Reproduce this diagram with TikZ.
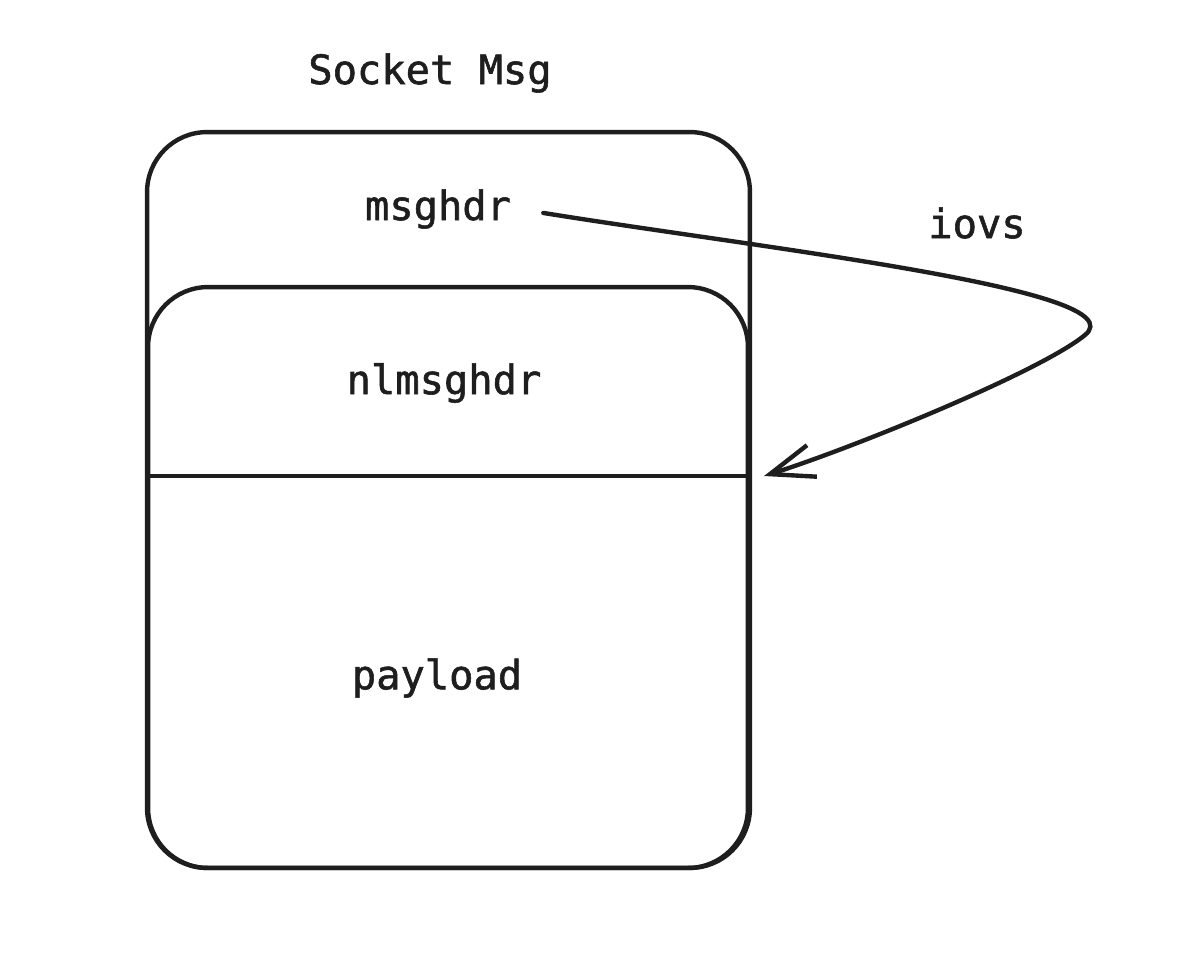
\documentclass[tikz,border=0pt]{standalone}
\usepackage{fontspec}
\newfontfamily\lblfont[BoldFont={DejaVu Sans Mono}, BoldFeatures={FakeBold=1.4}]{DejaVu Sans Mono}
\usetikzlibrary{arrows.meta}
\definecolor{ink}{HTML}{1E1E1E}
\begin{document}
\begin{tikzpicture}[x=0.02cm, y=-0.02cm, line width=2.5pt, draw=ink, line cap=round,
    box/.style = {draw, rounded corners=1.2cm, inner sep=0pt, outer sep=0pt},
    lbl/.style = {font=\lblfont\bfseries\fontsize{23}{28}\selectfont, text=ink}]
    \useasboundingbox (0,0) rectangle (1188,958);
    \node[box, minimum width=12.06cm, minimum height=14.72cm] (socket) at (448.5,500) {};
    \node[box, minimum width=12cm, minimum height=11.62cm] (nlbox) at (448,577.5) {};
    \coordinate (divl) at (150,476);
    \coordinate (divr) at (747,476);
    \coordinate (tip) at (764,476);
    \draw (divl) -- (divr);
    \node[lbl] (title) at (430,73) {Socket Msg};
    \node[lbl] (msghdr) at (438,209) {msghdr};
    \node[lbl] (nlmsghdr) at (444,383) {nlmsghdr};
    \node[lbl] (payload) at (437,678) {payload};
    \node[lbl] (iovs) at (977,223) {iovs};
    \draw[-{Straight Barb[length=0.88cm, width=0.66cm]}, shorten <=14pt] (msghdr.east)
      .. controls (760,248) and (1140,290) .. (1085,335)
      .. controls (1040,372) and (850,449) .. (tip);
  \end{tikzpicture}
\end{document}
